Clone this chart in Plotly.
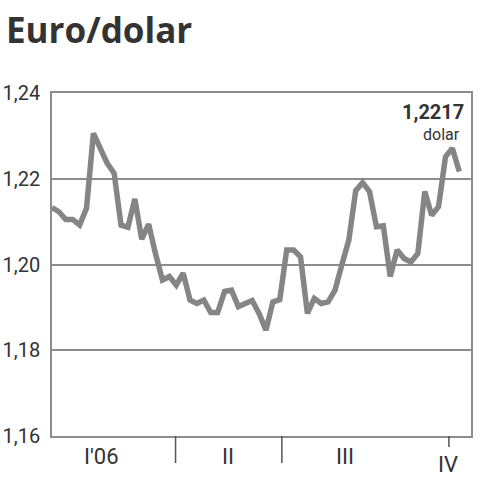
import plotly.graph_objects as go

# Euro/dollar rate, evenly spaced observations
rate = [1.2133, 1.2123, 1.2105, 1.2105, 1.2092, 1.2131, 1.2306, 1.2267, 1.2236, 1.2213,
        1.2092, 1.2087, 1.2153, 1.2059, 1.2094, 1.2025, 1.1964, 1.1972, 1.1952, 1.1980,
        1.1917, 1.1909, 1.1917, 1.1888, 1.1888, 1.1937, 1.1940, 1.1902, 1.1908, 1.1916,
        1.1886, 1.1847, 1.1913, 1.1918, 1.2034, 1.2034, 1.2018, 1.1886, 1.1921, 1.1909,
        1.1913, 1.1940, 1.2000, 1.2057, 1.2172, 1.2191, 1.2170, 1.2088, 1.2090, 1.1972,
        1.2034, 1.2014, 1.2006, 1.2026, 1.2170, 1.2115, 1.2135, 1.2251, 1.2271, 1.2217]
obs = list(range(len(rate)))

# quarter boundaries (in observation units) and label positions
quarter_bounds = [17.9, 33.3]
quarter_bound_short = [57.5]
quarter_labels = ["I'06", "II", "III", "IV"]
quarter_label_pos = [7.2, 25.5, 42.5, 57.4]

y_ticks = [1.16, 1.18, 1.20, 1.22, 1.24]
y_tick_text = ["1,16", "1,18", "1,20", "1,22", "1,24"]

last_label = "1,2217"
unit_label = "dolar"

TXT = "#333333"
GRID = "#8c8c8c"
FONT = "Roboto"

fig = go.Figure()
fig.add_trace(go.Scatter(x=obs, y=rate, mode="lines",
                         line=dict(color="#858585", width=5.5),
                         hoverinfo="skip", showlegend=False))

plot_h = 480 - 93 - 44
shapes = []
for b in quarter_bounds:
    shapes.append(dict(type="line", xref="x", yref="paper", x0=b, x1=b,
                       y0=0, y1=-27 / plot_h, line=dict(color="#555555", width=1.5)))
for b in quarter_bound_short:
    shapes.append(dict(type="line", xref="x", yref="paper", x0=b, x1=b,
                       y0=0, y1=-11 / plot_h, line=dict(color="#555555", width=1.5)))

annotations = []
for lab, pos in zip(quarter_labels, quarter_label_pos):
    yp = 464 if lab == "IV" else 456
    annotations.append(dict(text=lab, x=pos, xref="x", y=(436 - yp) / plot_h, yref="paper",
                            showarrow=False, xanchor="center", yanchor="middle",
                            font=dict(family=FONT, size=22, color=TXT)))
annotations.append(dict(text="<b>" + last_label + "</b>", x=1 - 5 / 419, xref="paper",
                        y=(436 - 112) / plot_h, yref="paper", showarrow=False,
                        xanchor="right", yanchor="middle",
                        font=dict(family=FONT, size=20, color=TXT)))
annotations.append(dict(text=unit_label, x=1 - 9 / 419, xref="paper",
                        y=(436 - 134) / plot_h, yref="paper", showarrow=False,
                        xanchor="right", yanchor="middle",
                        font=dict(family=FONT, size=16, color=TXT)))

fig.update_layout(
    width=480, height=480,
    margin=dict(l=52, r=9, t=93, b=44, autoexpand=False),
    paper_bgcolor="white", plot_bgcolor="white",
    title=dict(text="<b>Euro/dolar</b>", xref="container", yref="container",
               x=6 / 480, y=1 - 31 / 480, xanchor="left", yanchor="middle",
               font=dict(family="Open Sans", size=35, color=TXT)),
    xaxis=dict(range=[0, 60.7], showgrid=False, zeroline=False, showticklabels=False,
               ticks="", showline=True, mirror=True, linecolor=GRID, linewidth=1.5,
               fixedrange=True, automargin=False),
    yaxis=dict(range=[1.16, 1.24], tickvals=y_ticks, ticktext=y_tick_text,
               showgrid=True, gridcolor=GRID, gridwidth=1.5, zeroline=False,
               showline=True, mirror=True, linecolor=GRID, linewidth=1.5,
               ticks="", ticklabelstandoff=6, automargin=False,
               tickfont=dict(family=FONT, size=20, color=TXT), fixedrange=True),
    shapes=shapes, annotations=annotations,
)

fig.write_html("out.html", config={"displayModeBar": False},
               post_script="document.body.style.margin='0';")
